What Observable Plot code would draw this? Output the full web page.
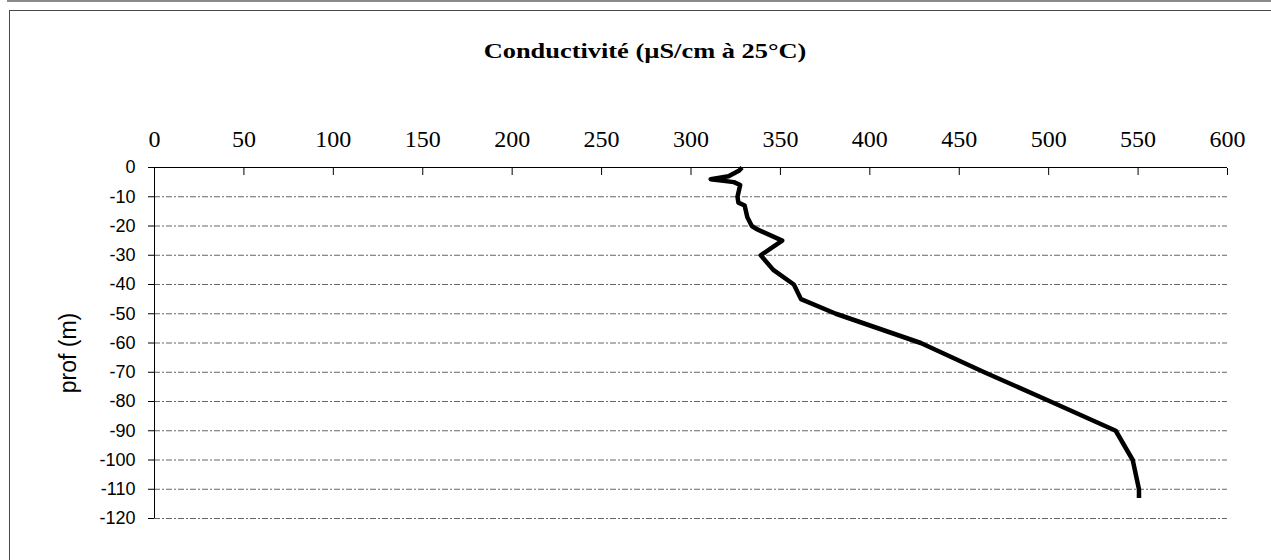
<!DOCTYPE html>
<html>
<head>
<meta charset="utf-8">
<script src="https://cdn.jsdelivr.net/npm/d3@7"></script>
<script src="https://cdn.jsdelivr.net/npm/@observablehq/plot@0.6"></script>
<style>
  html, body { margin: 0; padding: 0; background: #fff; }
  #wrap { position: relative; width: 1271px; height: 560px; overflow: hidden; background: #fff; }
  #topbar { position: absolute; left: 7px; top: 0; right: 0; height: 2px; background: #8a8a8a; }
  #frame { position: absolute; left: 9px; top: 10px; width: 1400px; height: 600px;
           border-left: 1.5px solid #4a4a4a; border-top: 1.5px solid #4a4a4a; box-sizing: border-box; }
  #title { position: absolute; left: 645px; top: 40px; white-space: nowrap;
           font-family: "Liberation Serif", "Times New Roman", serif; font-weight: bold;
           font-size: 22px; line-height: 22px; color: #000;
           transform: translateX(-50%) scaleX(1.2); transform-origin: center; }
  #chart { position: absolute; left: 0; top: 0; }
</style>
</head>
<body>
<div id="wrap">
  <div id="topbar"></div>
  <div id="frame"></div>
  <div id="title">Conductivité (µS/cm à 25°C)</div>
  <div id="chart"></div>
</div>
<script>
const depth = [0, -1, -3, -4, -5, -6, -10, -12, -13, -17, -20, -21, -25, -30, -35, -40, -45, -50, -60, -70, -80, -90, -100, -110, -113];
const conductivity = [328.5, 327, 321, 311, 324, 327.5, 326, 326.5, 330, 331.5, 334, 336.5, 351, 339, 346, 357.5, 361.5, 381, 428.5, 464, 501, 537.5, 547, 550.5, 550.5];

const xTicks = [0, 50, 100, 150, 200, 250, 300, 350, 400, 450, 500, 550, 600];
const yTicks = [0, -10, -20, -30, -40, -50, -60, -70, -80, -90, -100, -110, -120];
const gridLines = [-10, -20, -30, -40, -50, -60, -70, -80, -90, -100, -110, -120];
const yLabel = "prof (m)";

const data = depth.map((d, i) => ({depth: d, cond: conductivity[i]}));

const chart = Plot.plot({
  width: 1271,
  height: 560,
  marginLeft: 154,
  marginRight: 44,
  marginTop: 167,
  marginBottom: 42,
  style: {background: "transparent", overflow: "visible"},
  x: {domain: [0, 600], axis: null},
  y: {domain: [-120, 0], axis: null},
  marks: [
    Plot.gridY(gridLines, {stroke: "#666", strokeOpacity: 1, strokeWidth: 1, strokeDasharray: "6,2,2,2"}),
    Plot.ruleY([0], {stroke: "#000", strokeWidth: 1}),
    Plot.ruleX([0], {stroke: "#000", strokeWidth: 1}),
    Plot.axisX(xTicks, {
      anchor: "top", tickSize: -7, tickPadding: 28, label: null,
      tickFormat: d => String(d),
      fontFamily: "Liberation Serif, Times New Roman, serif", fontSize: 24
    }),
    Plot.axisY(yTicks, {
      anchor: "left", tickSize: 6, tickPadding: 13, label: null,
      tickFormat: d => String(d),
      fontFamily: "Liberation Sans, Arial, sans-serif", fontSize: 18
    }),
    Plot.text([yLabel], {
      text: d => d, frameAnchor: "left", textAnchor: "middle", lineAnchor: "middle",
      rotate: -90, dx: -86, dy: 10,
      fontFamily: "Liberation Sans, Arial, sans-serif", fontSize: 23, fill: "#000"
    }),
    Plot.line(data, {x: "cond", y: "depth", stroke: "#000", strokeWidth: 4.5, strokeLinejoin: "round", strokeLinecap: "butt"})
  ]
});

document.getElementById("chart").appendChild(chart);
</script>
</body>
</html>
